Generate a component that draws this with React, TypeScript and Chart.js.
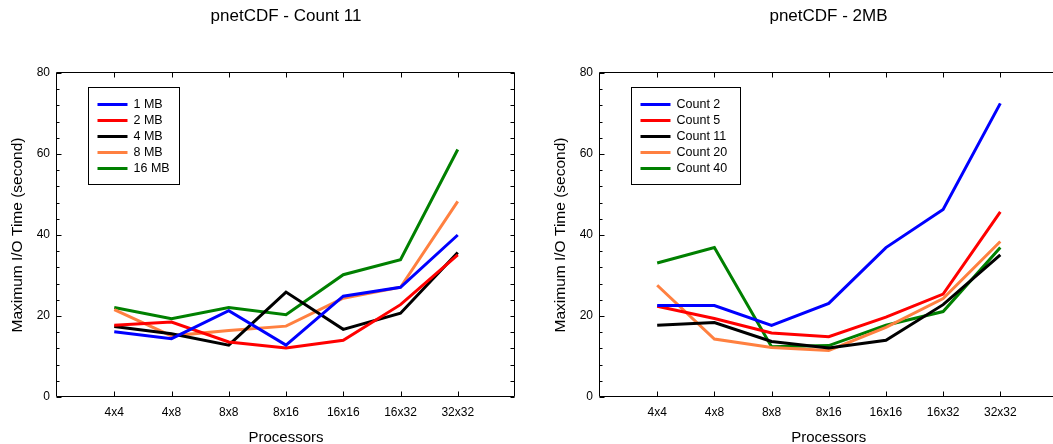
import React, { useEffect, useRef } from 'react';
import { Chart, registerables } from 'chart.js';

Chart.register(...registerables);
Chart.defaults.font.family = "'Liberation Sans', Arial, sans-serif";

// ---------- data ----------
const processors = ['4x4', '4x8', '8x8', '8x16', '16x16', '16x32', '32x32'];

const leftTitle = 'pnetCDF - Count 11';
const leftLabels = ['1 MB', '2 MB', '4 MB', '8 MB', '16 MB'];
const mb1 = [16.1, 14.4, 21.3, 12.8, 24.9, 27.1, 40.0];
const mb2 = [17.7, 18.5, 13.6, 12.1, 14.0, 22.8, 35.1];
const mb4 = [17.4, 15.6, 12.8, 25.9, 16.7, 20.7, 35.7];
const mb8 = [21.6, 15.1, 16.4, 17.5, 24.4, 27.1, 48.3];
const mb16 = [22.1, 19.3, 22.1, 20.3, 30.2, 33.9, 61.1];

const rightTitle = 'pnetCDF - 2MB';
const rightLabels = ['Count 2', 'Count 5', 'Count 11', 'Count 20', 'Count 40'];
const count2 = [22.6, 22.6, 17.7, 23.1, 36.9, 46.3, 72.5];
const count5 = [22.4, 19.4, 15.8, 14.9, 19.7, 25.4, 45.7];
const count11 = [17.7, 18.4, 13.7, 12.1, 14.0, 22.8, 35.1];
const count20 = [27.6, 14.3, 12.2, 11.5, 17.2, 24.3, 38.4];
const count40 = [33.1, 36.9, 12.4, 12.7, 17.7, 21.1, 36.9];

const yMin = 0;
const yMax = 80;
const yMajorStep = 20;
const yMinorStep = 4;

const xAxisTitle = 'Processors';
const yAxisTitle = 'Maximum I/O Time (second)';

// ---------- styles ----------
const seriesColors = ['#0000FF', '#FF0000', '#000000', '#FF8040', '#008000'];

type ChartSpec = {
  title: string;
  labels: string[];
  series: number[][];
  canvasWidth: number;
  yAxisWidth: number;
  rightSpace: number;
  yTitlePad: number;
  legendWidth: number;
};

function makeFramePlugin() {
  return {
    id: 'frameTicks',
    afterDatasetsDraw(chart: any) {
      const { ctx, chartArea: a, scales } = chart;
      const x = scales.x;
      const y = scales.y;
      const L = Math.round(a.left) - 0.5;
      const R = Math.round(a.right) - 0.5;
      const T = Math.round(a.top) - 0.5;
      const B = Math.round(a.bottom) - 0.5;
      ctx.save();
      ctx.strokeStyle = '#000';
      ctx.lineWidth = 1;
      ctx.beginPath();
      ctx.rect(L, T, R - L, B - T);
      ctx.stroke();
      ctx.beginPath();
      for (let i = 0; i < processors.length; i++) {
        const px = Math.round(x.getPixelForValue(i)) + 0.5;
        ctx.moveTo(px, B);
        ctx.lineTo(px, B - 5);
        ctx.moveTo(px, T);
        ctx.lineTo(px, T + 5);
      }
      for (let v = yMin; v <= yMax; v += yMinorStep) {
        const py = Math.round(y.getPixelForValue(v)) + 0.5;
        const len = v % yMajorStep === 0 ? 5 : 3;
        ctx.moveTo(L, py);
        ctx.lineTo(L + len, py);
        ctx.moveTo(R, py);
        ctx.lineTo(R - 4, py);
      }
      ctx.stroke();
      ctx.restore();
    },
  };
}

function makeLegendPlugin(spec: ChartSpec) {
  return {
    id: 'boxLegend',
    afterDraw(chart: any) {
      const { ctx, chartArea: a } = chart;
      const bx = Math.round(a.left + 31) + 0.5;
      const by = Math.round(a.top + 14) + 0.5;
      const bw = spec.legendWidth;
      const bh = 97;
      ctx.save();
      ctx.fillStyle = '#fff';
      ctx.fillRect(bx, by, bw, bh);
      ctx.strokeStyle = '#000';
      ctx.lineWidth = 1;
      ctx.strokeRect(bx, by, bw, bh);
      ctx.font = "12.5px 'Liberation Sans', Arial, sans-serif";
      ctx.textBaseline = 'middle';
      ctx.textAlign = 'left';
      chart.data.datasets.forEach((ds: any, i: number) => {
        const ly = by + 17 + i * 16;
        ctx.strokeStyle = ds.borderColor;
        ctx.lineWidth = 3;
        ctx.beginPath();
        ctx.moveTo(bx + 9, ly);
        ctx.lineTo(bx + 39, ly);
        ctx.stroke();
        ctx.fillStyle = '#000';
        ctx.fillText(ds.label, bx + 45, ly);
      });
      ctx.restore();
    },
  };
}

function makeConfig(spec: ChartSpec): any {
  return {
    type: 'line',
    data: {
      datasets: spec.series.map((vals, i) => ({
        label: spec.labels[i],
        data: vals.map((v, j) => ({ x: j, y: v })),
        borderColor: seriesColors[i],
        backgroundColor: seriesColors[i],
        borderWidth: 3,
        pointRadius: 0,
        tension: 0,
        fill: false,
      })),
    },
    options: {
      responsive: false,
      animation: false,
      devicePixelRatio: 1,
      layout: { padding: 0 },
      plugins: {
        legend: { display: false },
        tooltip: { enabled: false },
        title: {
          display: true,
          text: spec.title,
          color: '#000',
          font: { size: 17, weight: 'normal' },
          padding: { top: 6.5, bottom: 46.1 },
        },
      },
      scales: {
        x: {
          type: 'linear',
          min: -1,
          max: processors.length,
          grid: { display: false, drawTicks: false },
          border: { display: false },
          ticks: {
            stepSize: 1,
            autoSkip: false,
            maxRotation: 0,
            color: '#000',
            font: { size: 12 },
            padding: 8,
            callback: (v: number) => processors[v] ?? '',
          },
          title: {
            display: true,
            text: xAxisTitle,
            color: '#000',
            font: { size: 15 },
            padding: { top: 0, bottom: 3 },
          },
          afterFit: (s: any) => {
            s.height = 53;
          },
        },
        y: {
          min: yMin,
          max: yMax,
          grid: { display: false, drawTicks: false },
          border: { display: false },
          ticks: {
            stepSize: yMajorStep,
            color: '#000',
            font: { size: 12 },
            padding: 7,
          },
          title: {
            display: true,
            text: yAxisTitle,
            color: '#000',
            font: { size: 15.5 },
            padding: { top: spec.yTitlePad, bottom: 0 },
          },
          afterFit: (s: any) => {
            s.width = spec.yAxisWidth;
          },
        },
        yRight: {
          position: 'right',
          min: yMin,
          max: yMax,
          grid: { display: false, drawTicks: false },
          border: { display: false },
          ticks: { display: false },
          afterFit: (s: any) => {
            s.width = spec.rightSpace;
          },
        },
      },
    },
    plugins: [makeFramePlugin(), makeLegendPlugin(spec)],
  };
}

function LineChart({ spec, left }: { spec: ChartSpec; left: number }) {
  const ref = useRef<HTMLCanvasElement | null>(null);
  useEffect(() => {
    if (!ref.current) return;
    const chart = new Chart(ref.current, makeConfig(spec));
    return () => chart.destroy();
  }, [spec]);
  return (
    <canvas
      ref={ref}
      width={spec.canvasWidth}
      height={450}
      style={{ position: 'absolute', left, top: 0, width: spec.canvasWidth, height: 450 }}
    />
  );
}

const leftSpec: ChartSpec = {
  title: leftTitle,
  labels: leftLabels,
  series: [mb1, mb2, mb4, mb8, mb16],
  canvasWidth: 572,
  yAxisWidth: 57,
  rightSpace: 57,
  yTitlePad: 8.3,
  legendWidth: 91,
};

const rightSpec: ChartSpec = {
  title: rightTitle,
  labels: rightLabels,
  series: [count2, count5, count11, count20, count40],
  canvasWidth: 611,
  yAxisWidth: 77,
  rightSpace: 76.5,
  yTitlePad: 28.3,
  legendWidth: 109,
};

export default function App() {
  return (
    <div
      style={{
        position: 'fixed',
        left: 0,
        top: 0,
        width: 1053,
        height: 444,
        overflow: 'hidden',
        background: '#fff',
      }}
    >
      <LineChart spec={leftSpec} left={0} />
      <LineChart spec={rightSpec} left={523} />
    </div>
  );
}
